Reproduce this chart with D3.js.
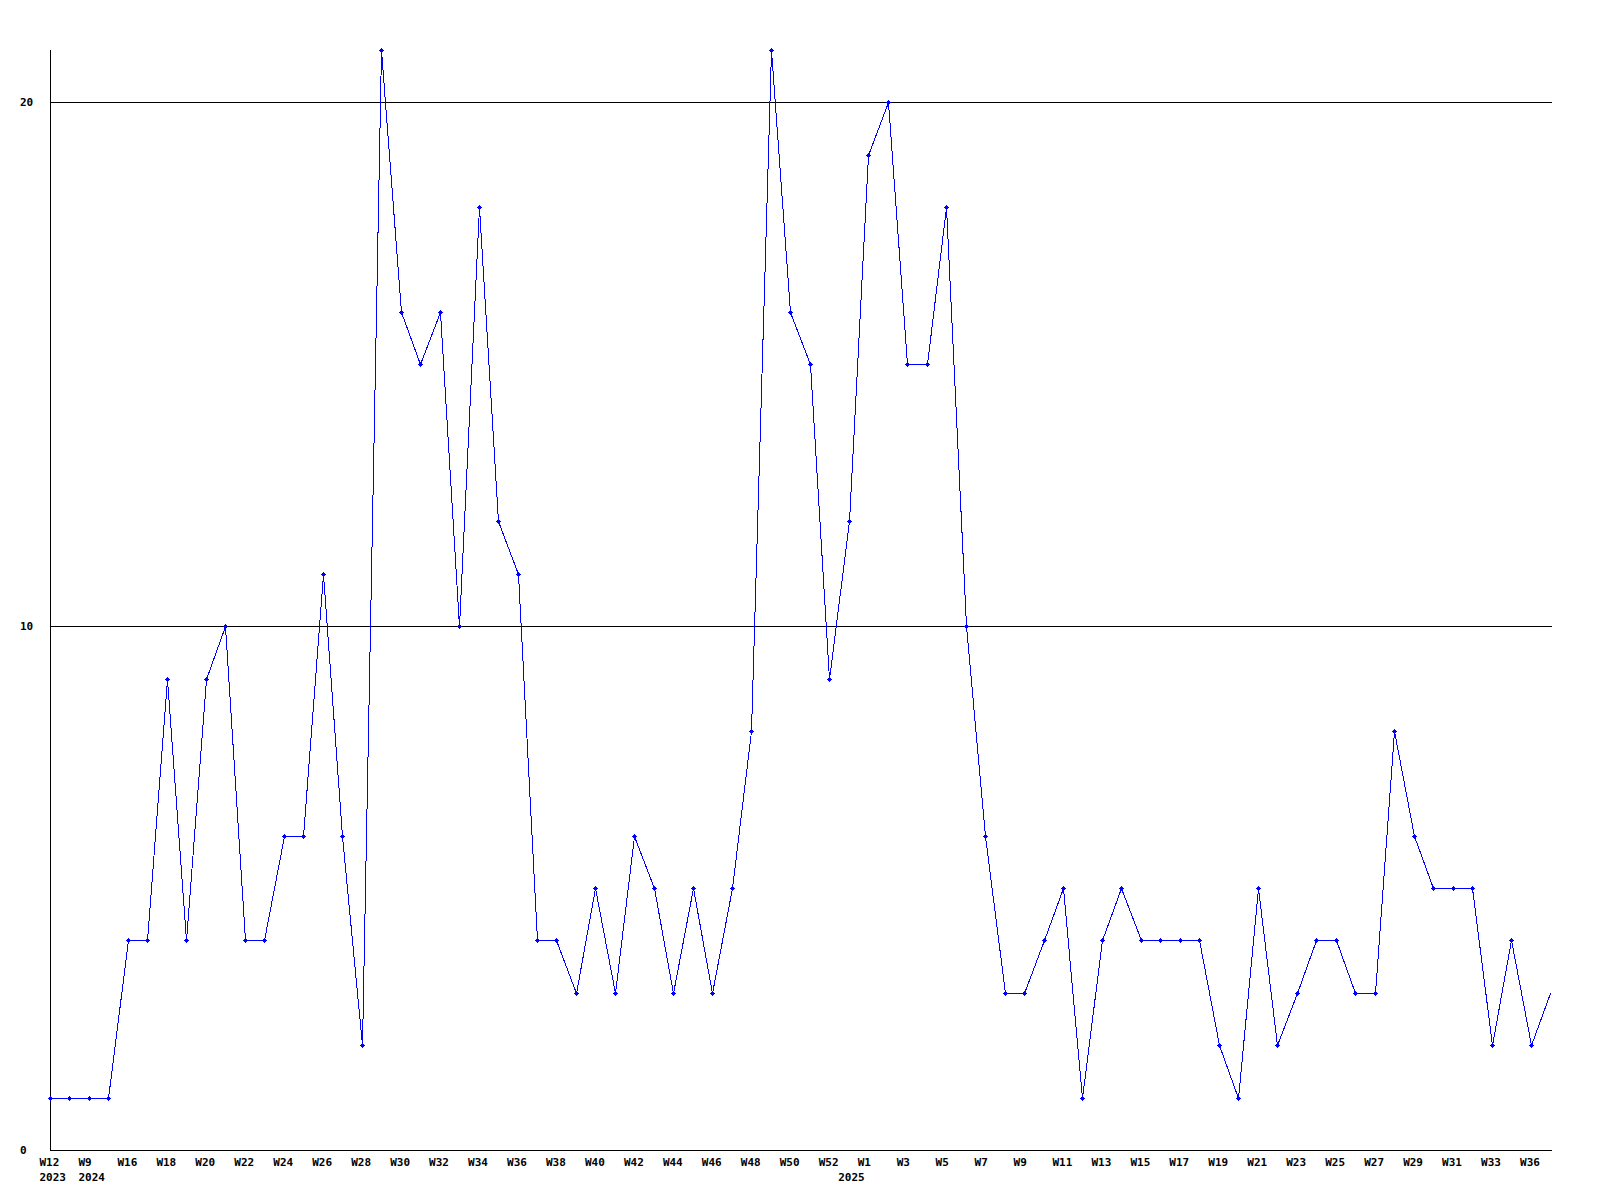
<!DOCTYPE html>
<html>
<head>
<meta charset="utf-8">
<script src="https://cdn.jsdelivr.net/npm/d3@7"></script>
<style>
  body { margin: 0; background: #fff; }
  text { font-family: "DejaVu Sans Mono", monospace; font-size: 11px; font-weight: bold; fill: #000; }
</style>
</head>
<body>
<div id="chart"></div>
<script>
/* CONSTANTS AND GLOBALS */
const width = 1600,
  height = 1200,
  margin = { top: 50, bottom: 50, left: 50, right: 50 };

/* DATA */
// week label of every point (odd ones are not printed on the axis)
const weeks = [
  "W12", "W13", "W9", "W15",
  "W16", "W17", "W18", "W19", "W20", "W21", "W22", "W23", "W24", "W25", "W26", "W27",
  "W28", "W29", "W30", "W31", "W32", "W33", "W34", "W35", "W36", "W37", "W38", "W39",
  "W40", "W41", "W42", "W43", "W44", "W45", "W46", "W47", "W48", "W49", "W50", "W51",
  "W52", "W0",
  "W1", "W2", "W3", "W4", "W5", "W6", "W7", "W8", "W9", "W10", "W11", "W12", "W13",
  "W14", "W15", "W16", "W17", "W18", "W19", "W20", "W21", "W22", "W23", "W24", "W25",
  "W26", "W27", "W28", "W29", "W30", "W31", "W32", "W33", "W35", "W36", "W37"
];
// year label, only on the first point of each year
const years = { 0: "2023", 2: "2024", 41: "2025" };
const values = [
  1, 1, 1, 1,
  4, 4, 9, 4, 9, 10, 4, 4, 6, 6, 11, 6,
  2, 21, 16, 15, 16, 10, 18, 12, 11, 4, 4, 3,
  5, 3, 6, 5, 3, 5, 3, 5, 8, 21, 16, 15,
  9, 12,
  19, 20, 15, 15, 18, 10, 6, 3, 3, 4, 5, 1, 4,
  5, 4, 4, 4, 4, 2, 1, 5, 2, 3, 4, 4,
  3, 3, 8, 6, 5, 5, 5, 2, 4, 2, 3
];
const yTicks = [0, 10, 20];

const data = values.map((v, i) => ({ i, week: weeks[i], value: v }));

/* SCALES */
const xScale = d3.scaleLinear()
  .domain([0, data.length - 1])
  .range([margin.left, width - margin.right]);

const yScale = d3.scaleLinear()
  .domain([0, 21])
  .range([height - margin.bottom, margin.top]);

const px = v => Math.round(v) + 0.5;

/* SVG */
const svg = d3.select("#chart")
  .append("svg")
  .attr("width", width)
  .attr("height", height);

// horizontal grid lines at the labelled values
svg.append("g")
  .selectAll("line")
  .data(yTicks.filter(d => d > 0))
  .join("line")
  .attr("x1", margin.left)
  .attr("x2", px(xScale(data.length - 1)) + 1)
  .attr("y1", d => px(yScale(d)))
  .attr("y2", d => px(yScale(d)))
  .attr("stroke", "#000")
  .attr("shape-rendering", "crispEdges");

// y labels
svg.append("g")
  .selectAll("text")
  .data(yTicks)
  .join("text")
  .attr("x", 20)
  .attr("y", d => Math.round(yScale(d)) + 4)
  .text(d => d);

// axes
svg.append("path")
  .attr("d", `M${px(margin.left)},${margin.top}V${px(yScale(0))}H${px(xScale(data.length - 1)) + 1}`)
  .attr("fill", "none")
  .attr("stroke", "#000")
  .attr("shape-rendering", "crispEdges");

// x labels, every second point
const xLabels = svg.append("g");
xLabels.selectAll("text.week")
  .data(data.filter(d => d.i % 2 === 0))
  .join("text")
  .attr("class", "week")
  .attr("x", d => xScale(d.i) - 10.5)
  .attr("y", 1166)
  .text(d => d.week);

xLabels.selectAll("text.year")
  .data(Object.keys(years).map(k => ({ i: +k, year: years[k] })))
  .join("text")
  .attr("class", "year")
  .attr("x", d => xScale(d.i) - 10.5)
  .attr("y", 1181)
  .text(d => d.year);

/* LINE */
const line = d3.line()
  .x(d => px(xScale(d.i)))
  .y(d => px(yScale(d.value)));

svg.append("path")
  .datum(data)
  .attr("d", line)
  .attr("fill", "none")
  .attr("stroke", "#0000ff")
  .attr("stroke-width", 1)
  .attr("shape-rendering", "crispEdges");

// cross markers (the last point has none)
const marks = svg.append("g")
  .selectAll("g")
  .data(data.slice(0, -1))
  .join("g")
  .attr("transform", d => `translate(${Math.round(xScale(d.i))},${Math.round(yScale(d.value))})`)
  .attr("fill", "#0000ff")
  .attr("shape-rendering", "crispEdges");
marks.append("rect").attr("x", -2).attr("y", 0).attr("width", 5).attr("height", 1);
marks.append("rect").attr("x", 0).attr("y", -2).attr("width", 1).attr("height", 5);
marks.append("rect").attr("x", -1).attr("y", -1).attr("width", 3).attr("height", 3);
</script>
</body>
</html>
